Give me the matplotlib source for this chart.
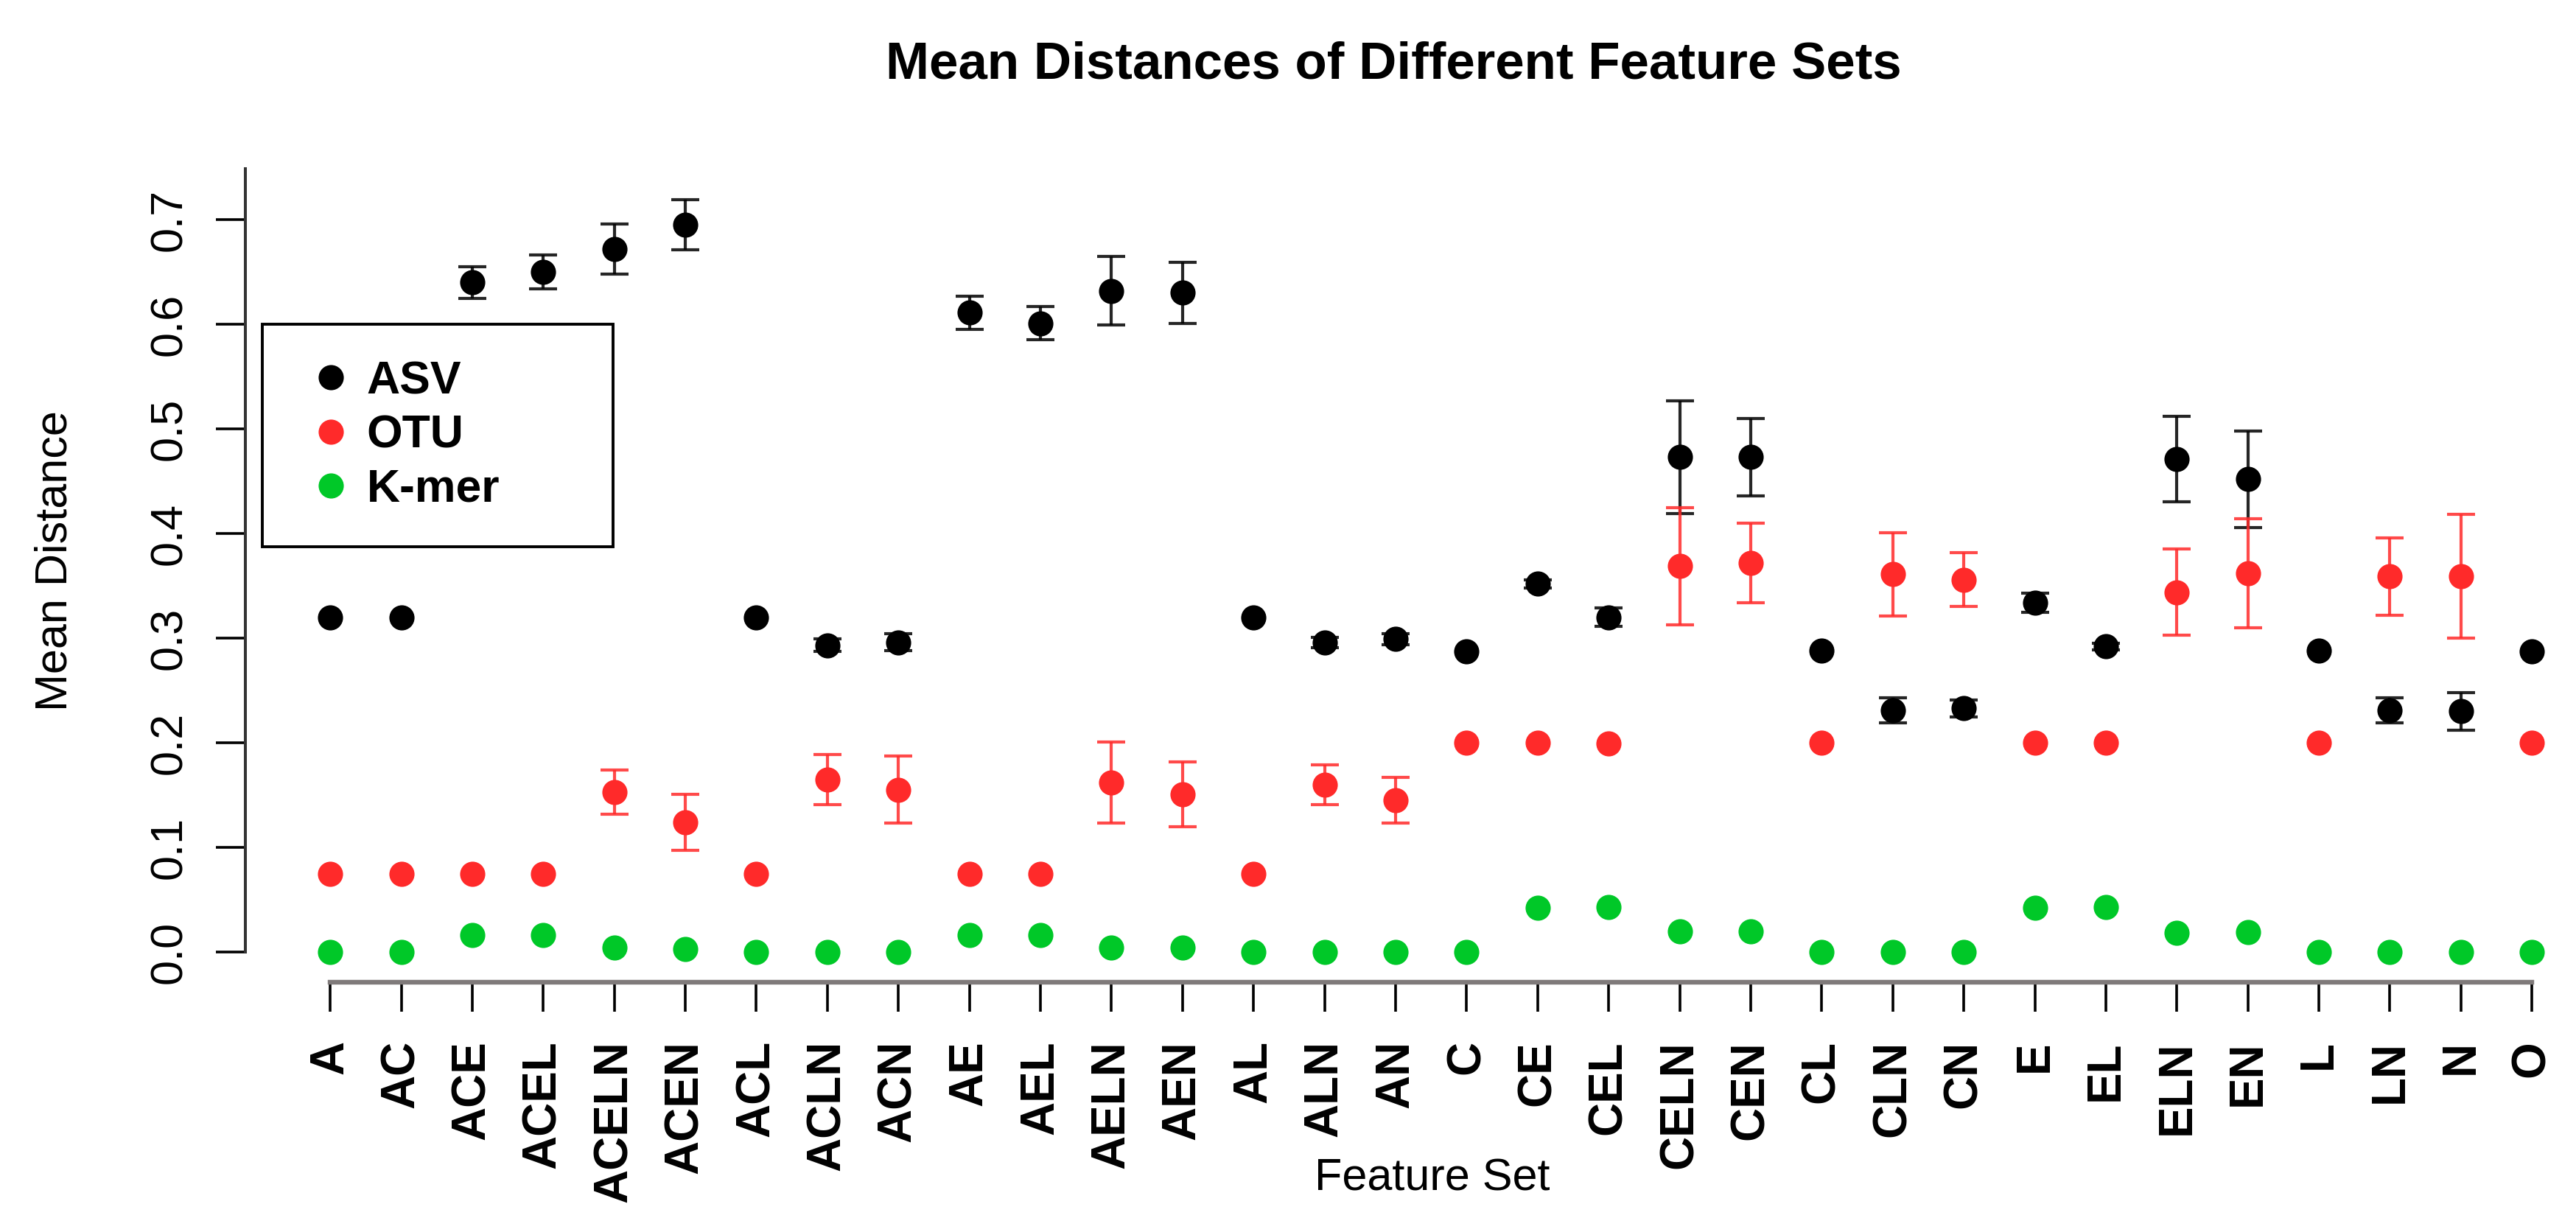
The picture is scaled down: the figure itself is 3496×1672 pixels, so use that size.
import numpy as np
import matplotlib
matplotlib.use("Agg")
import matplotlib.pyplot as plt
from matplotlib.lines import Line2D

plt.rcParams['font.family'] = ['Liberation Sans', 'DejaVu Sans']

categories = ["A", "AC", "ACE", "ACEL", "ACELN", "ACEN", "ACL", "ACLN", "ACN", "AE",
              "AEL", "AELN", "AEN", "AL", "ALN", "AN", "C", "CE", "CEL", "CELN",
              "CEN", "CL", "CLN", "CN", "E", "EL", "ELN", "EN", "L", "LN", "N", "O"]

asv_mean = [0.320, 0.320, 0.640, 0.650, 0.672, 0.695, 0.320, 0.293, 0.296, 0.611,
            0.601, 0.632, 0.630, 0.320, 0.296, 0.299, 0.287, 0.352, 0.320, 0.473,
            0.473, 0.288, 0.231, 0.233, 0.334, 0.292, 0.471, 0.452, 0.288, 0.231, 0.230, 0.287]
asv_err = [0.0, 0.0, 0.015, 0.016, 0.024, 0.024, 0.0, 0.006, 0.008, 0.016,
           0.016, 0.033, 0.029, 0.0, 0.005, 0.005, 0.0, 0.004, 0.009, 0.054,
           0.037, 0.0, 0.012, 0.008, 0.009, 0.003, 0.041, 0.046, 0.0, 0.012, 0.018, 0.0]

otu_mean = [0.075, 0.075, 0.075, 0.075, 0.153, 0.124, 0.075, 0.165, 0.155, 0.075,
            0.075, 0.162, 0.151, 0.075, 0.160, 0.145, 0.200, 0.200, 0.199, 0.369,
            0.372, 0.200, 0.361, 0.356, 0.200, 0.200, 0.344, 0.362, 0.200, 0.359, 0.359, 0.200]
otu_err = [0.0, 0.0, 0.0, 0.0, 0.021, 0.027, 0.0, 0.024, 0.032, 0.0,
           0.0, 0.039, 0.031, 0.0, 0.019, 0.022, 0.0, 0.0, 0.0, 0.056,
           0.038, 0.0, 0.040, 0.026, 0.0, 0.0, 0.041, 0.052, 0.0, 0.037, 0.059, 0.0]

kmer_mean = [0.0, 0.0, 0.016, 0.016, 0.004, 0.003, 0.0, 0.0, 0.0, 0.016,
             0.016, 0.004, 0.004, 0.0, 0.0, 0.0, 0.0, 0.042, 0.043, 0.020,
             0.020, 0.0, 0.0, 0.0, 0.042, 0.043, 0.018, 0.019, 0.0, 0.0, 0.0, 0.0]
kmer_err = [0.0] * len(categories)

series_names = ["ASV", "OTU", "K-mer"]
series_colors = ["#000000", "#FF2A2A", "#00C828"]

y_ticks = [0.0, 0.1, 0.2, 0.3, 0.4, 0.5, 0.6, 0.7]
y_tick_labels = ["0.0", "0.1", "0.2", "0.3", "0.4", "0.5", "0.6", "0.7"]

DPI = 200
fig = plt.figure(figsize=(3496 / DPI, 1672 / DPI), dpi=DPI)
ax = fig.add_axes([0.0953, 0.2028, 1 - 0.0953, 0.8632 - 0.2028])

x = np.arange(len(categories))
means = [np.array(asv_mean), np.array(otu_mean), np.array(kmer_mean)]
errs = [np.array(asv_err), np.array(otu_err), np.array(kmer_err)]

z = 2
for m, e, c in zip(means, errs, series_colors):
    mask = e > 0
    if mask.any():
        ax.errorbar(x[mask], m[mask], yerr=e[mask], fmt='none', ecolor=c,
                    elinewidth=1.5, capsize=6.9, capthick=1.5, alpha=0.85, zorder=z)
    ax.plot(x, m, 'o', color=c, markersize=12.3, markeredgewidth=0, zorder=z + 1)
    z += 2

ax.set_xlim(-1.193, 31.62)
ax.set_ylim(-0.0288, 0.7488)

for s in ['top', 'right']:
    ax.spines[s].set_visible(False)
ax.spines['left'].set_bounds(0, 0.7488)
ax.spines['left'].set_color('#333333')
ax.spines['left'].set_linewidth(1.45)
ax.spines['bottom'].set_bounds(0, len(categories) - 1)
ax.spines['bottom'].set_color('#7f7a7a')
ax.spines['bottom'].set_linewidth(2.3)

ax.set_xticks(x)
ax.set_xticklabels(categories, rotation=90, fontsize=23, fontweight='bold')
ax.set_yticks(y_ticks)
ax.set_yticklabels(y_tick_labels, rotation=90, va='center', fontsize=22)
ax.tick_params(axis='both', length=14.5, width=1.3, color='black', direction='out')
ax.tick_params(axis='x', pad=14)
ax.tick_params(axis='y', pad=12)

fig.text(0.541, 0.947, "Mean Distances of Different Feature Sets", ha='center', va='center',
         fontsize=25.5, fontweight='bold')
fig.text(0.0215, 0.545, "Mean Distance", rotation=90, ha='center', va='center', fontsize=22)
fig.text(0.556, 0.043, "Feature Set", ha='center', va='center', fontsize=22)

handles = [Line2D([], [], marker='o', ls='none', color=c, markersize=12.3, markeredgewidth=0)
           for c in series_colors]
leg = ax.legend(handles, series_names, loc='upper left',
                bbox_to_anchor=(0.1018, 0.5368, 0.1362, 0.2), bbox_transform=fig.transFigure,
                mode='expand', borderaxespad=0, borderpad=0.77, labelspacing=0.23,
                handlelength=1.45, handletextpad=0.05, frameon=True, fancybox=False,
                edgecolor='black', framealpha=1, prop=dict(weight='bold', size=22.5))
leg.get_frame().set_linewidth(1.4)

fig.savefig("out.png", dpi=DPI)
